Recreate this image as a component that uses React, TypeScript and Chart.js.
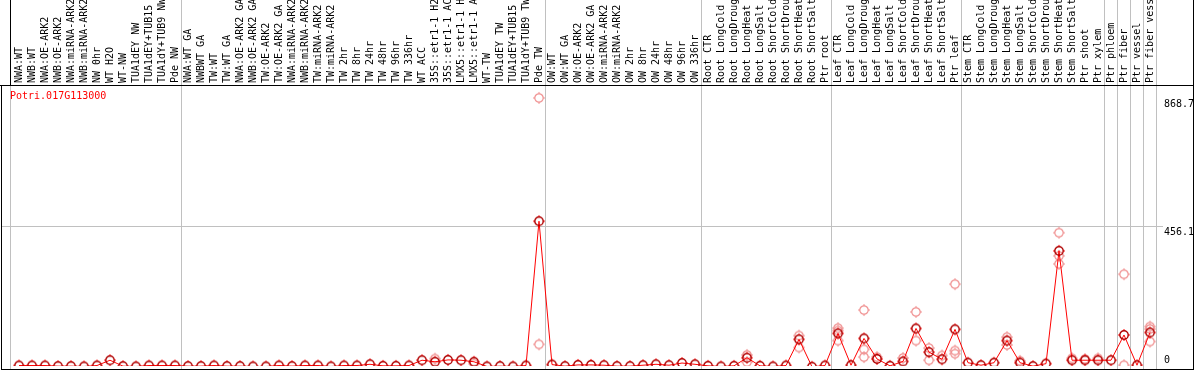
import React, { useEffect, useRef } from 'react';
import { Chart, registerables } from 'chart.js';
Chart.register(...registerables);

const geneId = 'Potri.017G113000';

const categories = [
  'NWA:WT', 'NWB:WT', 'NWA:OE-ARK2', 'NWB:OE-ARK2', 'NWA:miRNA-ARK2', 'NWB:miRNA-ARK2',
  'NW 0hr', 'WT H2O', 'WT-NW', 'TUA1dEY NW', 'TUA1dEY+TUB15 NW', 'TUA1dY+TUB9 NW', 'Pde NW',
  'NWA:WT GA', 'NWBWT GA', 'TW:WT', 'TW:WT GA', 'NWA:OE-ARK2 GA', 'NWB:OE-ARK2 GA',
  'TW:OE-ARK2', 'TW:OE-ARK2 GA', 'NWA:miRNA-ARK2 GA', 'NWB:miRNA-ARK2 GA', 'TW:miRNA-ARK2',
  'TW:miRNA-ARK2 GA', 'TW 2hr', 'TW 8hr', 'TW 24hr', 'TW 48hr', 'TW 96hr', 'TW 336hr',
  'WT ACC', '35S::etr1-1 H2O', '35S::etr1-1 ACC', 'LMX5::etr1-1 H2O', 'LMX5::etr1-1 ACC',
  'WT-TW', 'TUA1dEY TW', 'TUA1dEY+TUB15 TW', 'TUA1dY+TUB9 TW', 'Pde TW',
  'OW:WT', 'OW:WT GA', 'OW:OE-ARK2', 'OW:OE-ARK2 GA', 'OW:miRNA-ARK2', 'OW:miRNA-ARK2 GA',
  'OW 2hr', 'OW 8hr', 'OW 24hr', 'OW 48hr', 'OW 96hr', 'OW 336hr',
  'Root CTR', 'Root LongCold', 'Root LongDrought', 'Root LongHeat', 'Root LongSalt',
  'Root ShortCold', 'Root ShortDrought', 'Root ShortHeat', 'Root ShortSalt', 'Ptr root',
  'Leaf CTR', 'Leaf LongCold', 'Leaf LongDrought', 'Leaf LongHeat', 'Leaf LongSalt',
  'Leaf ShortCold', 'Leaf ShortDrought', 'Leaf ShortHeat', 'Leaf ShortSalt', 'Ptr leaf',
  'Stem CTR', 'Stem LongCold', 'Stem LongDrought', 'Stem LongHeat', 'Stem LongSalt',
  'Stem ShortCold', 'Stem ShortDrought', 'Stem ShortHeat', 'Stem ShortSalt', 'Ptr shoot',
  'Ptr xylem', 'Ptr phloem', 'Ptr fiber', 'Ptr vessel', 'Ptr fiber vessel',
];

const meanValues = [
  10, 10, 10, 8, 8, 7, 10, 27, 8, 7, 10, 10, 10,
  8, 8, 10, 8, 8, 7, 7, 10, 8, 10, 10, 7, 10, 10, 14, 9, 9, 10, 27, 22, 28, 27, 22, 7, 8, 7, 10, 473,
  13, 8, 12, 12, 11, 8, 8, 11, 14, 11, 18, 14,
  9, 7, 9, 35, 9, 7, 10, 94, 6, 10,
  113, 11, 97, 31, 9, 23, 129, 53, 30, 126,
  19, 11, 19, 90, 19, 8, 16, 378, 27, 27,
  27, 27, 108, 11, 116,
];

// individual replicates that stand apart from the mean marker
const replicateCategories = [
  '35S::etr1-1 H2O', 'LMX5::etr1-1 ACC', 'Pde TW', 'Pde TW', 'Root LongHeat', 'Root LongHeat',
  'Root ShortHeat', 'Root ShortHeat', 'Leaf CTR', 'Leaf CTR', 'Leaf CTR',
  'Leaf LongDrought', 'Leaf LongDrought', 'Leaf LongDrought', 'Leaf LongHeat',
  'Leaf ShortCold', 'Leaf ShortDrought', 'Leaf ShortDrought', 'Leaf ShortHeat', 'Leaf ShortHeat',
  'Leaf ShortSalt', 'Ptr leaf', 'Ptr leaf', 'Ptr leaf', 'Stem LongHeat', 'Stem LongHeat',
  'Stem LongSalt', 'Stem ShortHeat', 'Stem ShortHeat', 'Stem ShortHeat', 'Stem ShortSalt',
  'Ptr shoot', 'Ptr xylem', 'Ptr fiber', 'Ptr fiber', 'Ptr fiber vessel', 'Ptr fiber vessel',
  'Ptr fiber vessel',
];
const replicateValues = [
  32, 16, 868.7, 78, 44, 21,
  106, 68, 130, 122, 90,
  188, 62, 37, 37,
  34, 182, 90, 66, 27,
  42, 271, 58, 48, 101, 76,
  25, 436, 362, 336, 33,
  31, 33, 303, 11, 135, 127,
  87,
];

const yTickValues = [0, 456.1, 868.7];
const yTickLabels = ['0', '456.1', '868.7'];
const gridValue = 456.1;
const yMin = 11.7;
const yMax = 906.8;
// last category index of each group (a separator follows it)
const groupEnds = [12, 40, 52, 62, 72, 83, 84, 85, 86, 87];

const FONT = "10px 'DejaVu Sans Mono'";

function makeMarker(ring: string, tick: string, lw: number) {
  const c = document.createElement('canvas');
  c.width = 14;
  c.height = 14;
  const g = c.getContext('2d')!;
  g.strokeStyle = tick;
  g.lineWidth = 1;
  g.beginPath();
  g.moveTo(7, 1); g.lineTo(7, 3);
  g.moveTo(7, 11); g.lineTo(7, 13);
  g.moveTo(1, 7); g.lineTo(3, 7);
  g.moveTo(11, 7); g.lineTo(13, 7);
  g.stroke();
  g.strokeStyle = ring;
  g.lineWidth = lw;
  g.beginPath();
  g.arc(7, 7, 4.2, 0, Math.PI * 2);
  g.stroke();
  return c;
}

const framePlugin = {
  id: 'framePlugin',
  beforeDatasetsDraw(chart: any) {
    const ctx = chart.ctx;
    const xs = chart.scales.x;
    const ys = chart.scales.y;
    ctx.save();
    ctx.fillStyle = '#c0c0c0';
    ctx.fillRect(Math.round(xs.getPixelForValue(0) - 9), 86, 1, 283);
    groupEnds.forEach((k) => {
      const px = Math.round(xs.getPixelForValue(k) + 5.5);
      ctx.fillRect(px, 0, 1, 369);
    });
    const gy = Math.round(ys.getPixelForValue(gridValue));
    ctx.fillRect(2, gy, 1161, 1);
    ctx.restore();
  },
  afterDatasetsDraw(chart: any) {
    const ctx = chart.ctx;
    const xs = chart.scales.x;
    const ys = chart.scales.y;
    ctx.save();
    // black frame
    ctx.fillStyle = '#000';
    ctx.fillRect(0, 85, 1194, 1);
    ctx.fillRect(10, 0, 1, 85);
    ctx.fillRect(1, 85, 1, 285);
    ctx.fillRect(1193, 0, 1, 370);
    ctx.fillRect(1, 369, 1193, 1);

    // category labels, rotated
    ctx.font = FONT;
    ctx.fillStyle = '#000';
    ctx.textAlign = 'left';
    ctx.textBaseline = 'alphabetic';
    categories.forEach((lab, i) => {
      const px = xs.getPixelForValue(i);
      ctx.save();
      ctx.beginPath();
      ctx.rect(0, 0, 1194, 85);
      ctx.clip();
      ctx.translate(Math.round(px) + 3, 83);
      ctx.rotate(-Math.PI / 2);
      ctx.fillText(lab, 0, 0);
      ctx.restore();
    });

    // title
    ctx.fillStyle = '#ff0000';
    ctx.textBaseline = 'top';
    ctx.fillText(geneId, 10, 91);

    // y labels
    ctx.fillStyle = '#000';
    yTickValues.forEach((v, i) => {
      const py = ys.getPixelForValue(v);
      if (v === 0) {
        ctx.textBaseline = 'alphabetic';
        ctx.fillText(yTickLabels[i], 1164, Math.round(py) - 6);
      } else {
        ctx.textBaseline = 'top';
        ctx.fillText(yTickLabels[i], 1164, Math.round(py) + 1);
      }
    });
    ctx.restore();
  },
};

export default function App() {
  const ref = useRef<HTMLCanvasElement | null>(null);
  useEffect(() => {
    if (!ref.current) return;
    const meanMarker = makeMarker('#b00000', '#ff0000', 1.4);
    const repMarker = makeMarker('#f09090', '#f09090', 1.2);
    const chart = new Chart(ref.current, {
      type: 'line',
      data: {
        labels: categories,
        datasets: [
          {
            data: meanValues,
            borderColor: '#ff0000',
            borderWidth: 1,
            pointStyle: meanMarker as any,
            pointRadius: 4,
            pointBorderWidth: 1,
            tension: 0,
            fill: false,
            clip: { left: false, top: false, right: false, bottom: 1 } as any,
          },
          {
            data: replicateCategories.map((c, i) => ({ x: c, y: replicateValues[i] })) as any,
            showLine: false,
            pointStyle: repMarker as any,
            pointRadius: 4,
            pointBorderWidth: 1,
            clip: { left: false, top: false, right: false, bottom: 1 } as any,
          },
        ],
      },
      options: {
        animation: false,
        responsive: false,
        devicePixelRatio: 1,
        layout: { padding: { left: 19, right: 44, top: 86, bottom: 2 } },
        plugins: { legend: { display: false }, tooltip: { enabled: false }, title: { display: false } },
        scales: {
          x: { type: 'category', display: false, offset: false },
          y: { type: 'linear', display: false, min: yMin, max: yMax },
        },
      },
      plugins: [framePlugin],
    });
    return () => chart.destroy();
  }, []);
  return (
    <div>
      <style>{'body{margin:0;}'}</style>
      <canvas ref={ref} width={1194} height={370} style={{ display: 'block' }} />
    </div>
  );
}
